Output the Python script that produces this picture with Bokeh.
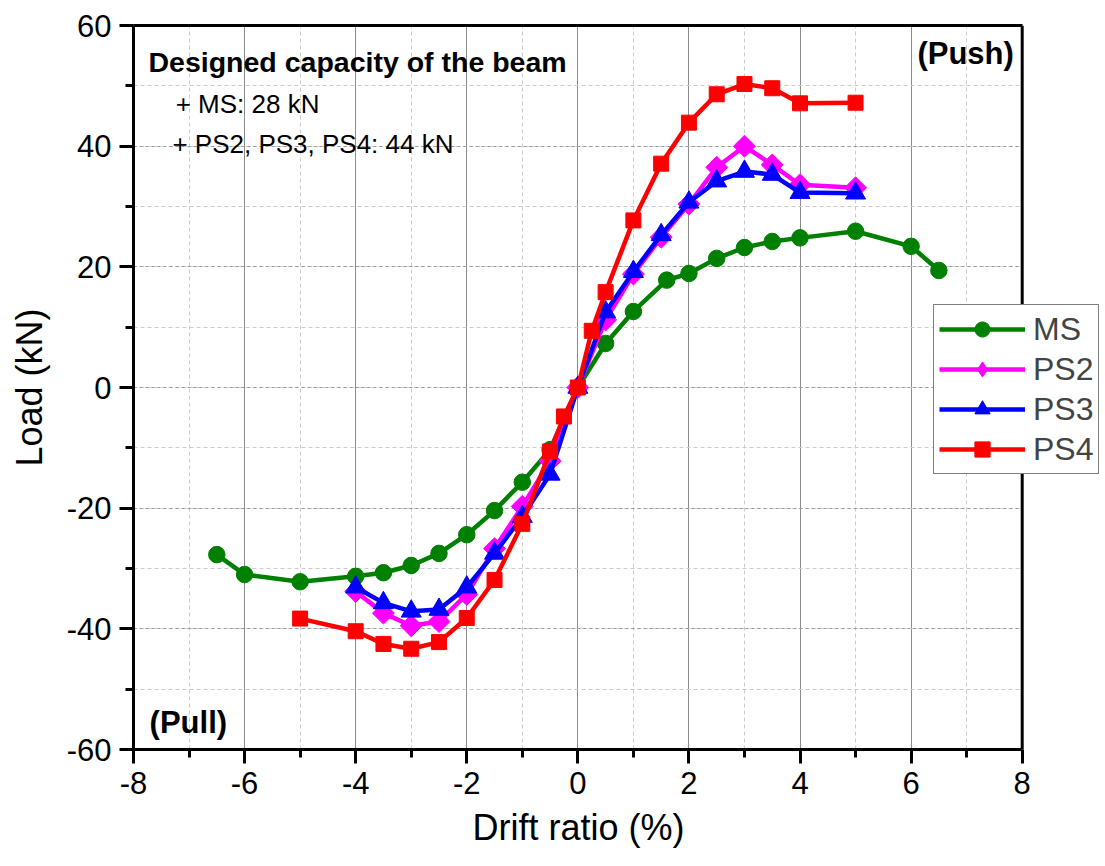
from bokeh.plotting import figure
from bokeh.models import (SingleIntervalTicker, FixedTicker, Label, Range1d, LinearAxis, Title,
                          BoxAnnotation, Span, Legend, LegendItem, CustomJSTickFormatter)
from bokeh.embed import file_html
from bokeh.resources import INLINE

# ---- data ----
ms_x = [-6.5, -6, -5, -4, -3.5, -3, -2.5, -2, -1.5, -1, -0.5, 0, 0.5, 1, 1.6, 2, 2.5, 3, 3.5, 4, 5, 6, 6.5]
ms_y = [-27.7, -31.0, -32.2, -31.3, -30.7, -29.5, -27.5, -24.4, -20.4, -15.7, -10.3, 0, 7.3, 12.6, 17.8, 18.9, 21.4, 23.2, 24.2, 24.8, 25.9, 23.4, 19.4]

ps2_x = [-4, -3.5, -3, -2.5, -2, -1.5, -1, -0.5, 0, 0.5, 1, 1.5, 2, 2.5, 3, 3.5, 4, 5]
ps2_y = [-33.8, -37.4, -39.5, -38.8, -34.3, -26.7, -19.7, -12.2, 0, 11.2, 18.8, 24.9, 30.4, 36.5, 40.0, 36.9, 33.6, 33.1]

ps3_x = [-4, -3.5, -3, -2.5, -2, -1.5, -1, -0.5, 0, 0.5, 1, 1.5, 2, 2.5, 3, 3.5, 4, 5]
ps3_y = [-33.1, -35.7, -37.1, -36.8, -33.1, -27.5, -21.4, -14.4, 0, 12.5, 19.2, 25.3, 30.7, 34.2, 35.8, 35.3, 32.3, 32.2]

ps4_x = [-5, -4, -3.5, -3, -2.5, -2, -1.5, -1, -0.5, -0.25, 0, 0.25, 0.5, 1, 1.5, 2, 2.5, 3, 3.5, 4, 5]
ps4_y = [-38.3, -40.4, -42.5, -43.3, -42.2, -38.2, -31.9, -22.6, -10.6, -4.8, 0, 9.4, 15.8, 27.7, 37.1, 43.9, 48.6, 50.3, 49.6, 47.1, 47.2]

series_names = ["MS", "PS2", "PS3", "PS4"]
series_colors = ["#008000", "#ff00ff", "#0000ff", "#ff0000"]

X_MIN, X_MAX = -8, 8
Y_MIN, Y_MAX = -60, 60
FONT = "Liberation Sans"

# frame extends to the right edge of the canvas so that the legend may overlap the box;
# the part right of x = 8 is masked.
x_view_end = X_MIN + (X_MAX - X_MIN) * (1105 - 133) / 888.7

p = figure(width=1105, height=866, x_range=Range1d(X_MIN, x_view_end), y_range=Range1d(Y_MIN, Y_MAX),
           output_backend="svg", toolbar_location=None,
           min_border_left=133, min_border_right=0, min_border_top=25, min_border_bottom=117,
           y_axis_label="Load (kN)")

xt = SingleIntervalTicker(interval=2, num_minor_ticks=2)
yt = SingleIntervalTicker(interval=20, num_minor_ticks=2)
p.xaxis.ticker = xt
p.yaxis.ticker = yt
p.xgrid.ticker = xt
p.ygrid.ticker = yt
p.xaxis.bounds = (X_MIN, X_MAX)
p.xgrid.bounds = (X_MIN, X_MAX)

fmt = CustomJSTickFormatter(code="return tick.toFixed(0);")
for ax in (p.xaxis[0], p.yaxis[0]):
    ax.formatter = fmt
    ax.axis_line_width = 3
    ax.axis_line_color = "black"
    ax.major_tick_line_width = 3
    ax.minor_tick_line_width = 3
    ax.major_tick_out = 14
    ax.major_tick_in = 0
    ax.minor_tick_out = 8
    ax.minor_tick_in = 0
    ax.major_label_text_font = FONT
    ax.major_label_text_font_size = "31px"
    ax.major_label_text_color = "black"
    ax.major_label_standoff = 8
    ax.axis_label_text_font = FONT
    ax.axis_label_text_font_size = "36px"
    ax.axis_label_text_font_style = "normal"
    ax.axis_label_text_color = "black"
    ax.axis_label_standoff = 14

# x-axis title, centred under x = 0 (the frame itself is wider than the axis)
p.add_layout(Title(text="Drift ratio (%)", align="left", offset=339, text_font=FONT,
                   text_font_size="36px", text_font_style="normal", text_color="black",
                   standoff=17), "below")

# top frame line
top_axis = LinearAxis(ticker=FixedTicker(ticks=[]), bounds=(X_MIN, X_MAX), axis_line_width=3,
                      axis_line_color="black", major_tick_out=0, minor_tick_out=0,
                      major_tick_in=0, minor_tick_in=0)
p.add_layout(top_axis, "above")

p.xgrid.grid_line_color = "#8c8c8c"
p.xgrid.grid_line_width = 1
p.xgrid.minor_grid_line_color = "#cccccc"
p.xgrid.minor_grid_line_dash = "4 3"
p.ygrid.grid_line_color = "#9a9a9a"
p.ygrid.grid_line_dash = "3 3"
p.ygrid.minor_grid_line_color = "#cccccc"
p.ygrid.minor_grid_line_dash = "4 3"

p.outline_line_color = None

LW = 4.5
data = [(ms_x, ms_y), (ps2_x, ps2_y), (ps3_x, ps3_y), (ps4_x, ps4_y)]
markers = [("circle", 16.5, 0.0), ("square", 15.5, 0.7854), ("triangle", 20, 0.0), ("square", 15, 0.0)]
legend_renderers = []
for (xs, ys), col, (mk, sz, ang) in zip(data, series_colors, markers):
    r_line = p.line(xs, ys, line_color=col, line_width=LW)
    r_pts = p.scatter(xs, ys, marker=mk, size=sz, angle=ang, fill_color=col, line_color=col)
    if ang != 0.0:
        # legend swatch: diamond shape (legend glyphs ignore marker angle)
        r_leg = p.scatter(xs[:1], ys[:1], marker="diamond", size=24, fill_color=col,
                          line_color=col, visible=False)
        legend_renderers.append([r_line, r_leg])
    else:
        legend_renderers.append([r_line, r_pts])

# mask the area right of x = 8 and draw the right frame line
p.add_layout(BoxAnnotation(left=X_MAX, fill_color="white", fill_alpha=1.0, line_color=None))
p.add_layout(Span(location=X_MAX, dimension="height", line_color="black", line_width=3))

legend = Legend(items=[LegendItem(label=n, renderers=rs) for n, rs in zip(series_names, legend_renderers)],
                location=(800, 275), label_text_font=FONT, label_text_font_size="32px",
                glyph_width=86, glyph_height=38, label_height=38, spacing=2, padding=5, margin=0,
                label_standoff=8, border_line_color="black", border_line_width=1.5,
                background_fill_color="white", background_fill_alpha=1.0)
p.add_layout(legend, "center")

def lab(x, y, t, size, bold=False, align="left"):
    p.add_layout(Label(x=x, y=y, text=t, text_font=FONT, text_font_size=size,
                       text_font_style="bold" if bold else "normal",
                       text_align=align, text_baseline="alphabetic", text_color="black"))

lab(-7.73, 54.0, "Designed capacity of the beam", "28.5px", bold=True)
lab(-7.24, 47.0, "+ MS: 28 kN", "26px")
lab(-7.30, 40.3, "+ PS2, PS3, PS4: 44 kN", "26px")
lab(7.85, 55.3, "(Push)", "31px", bold=True, align="right")
lab(-7.71, -55.5, "(Pull)", "31px", bold=True)

open("out.html", "w").write(file_html(p, INLINE))
